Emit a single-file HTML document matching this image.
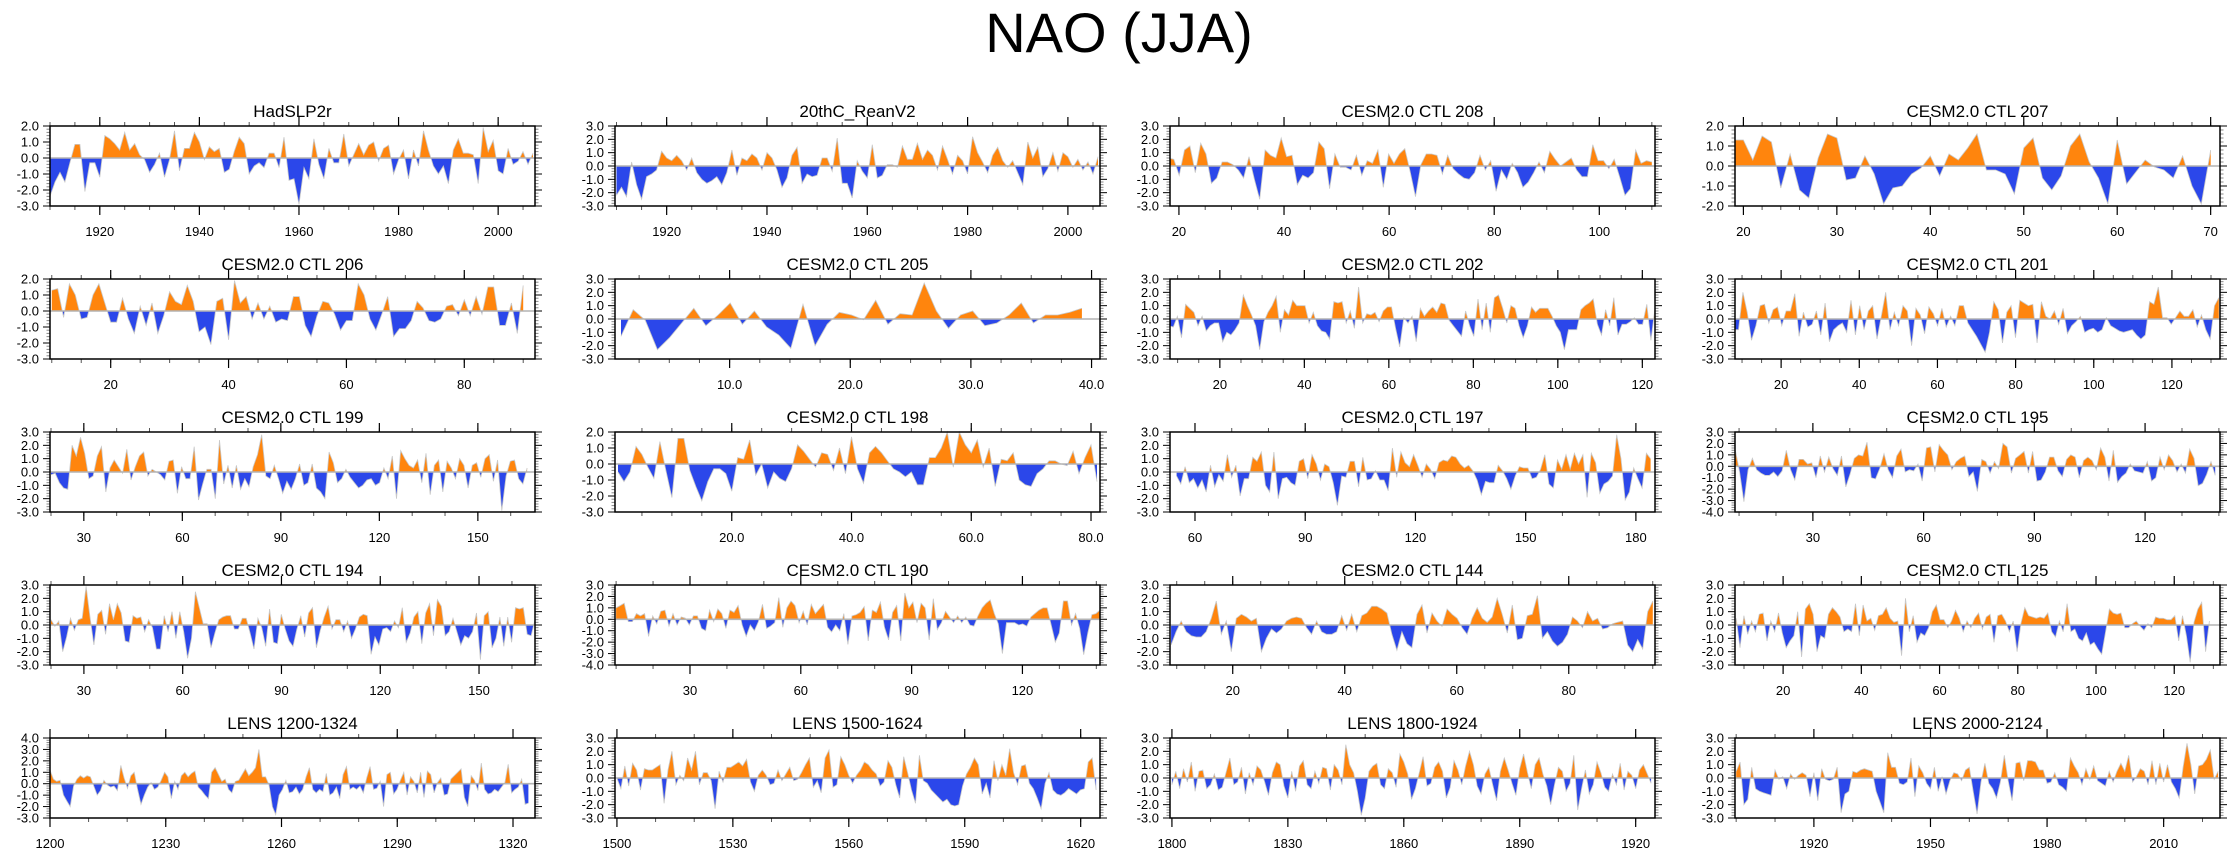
<!DOCTYPE html>
<html><head><meta charset="utf-8"><style>
html,body{margin:0;padding:0;background:#fff;}
svg{display:block;font-family:"Liberation Sans",sans-serif;}
</style></head><body>
<svg id="chart" width="2238" height="856" viewBox="0 0 2238 856" xmlns="http://www.w3.org/2000/svg">
<rect width="2238" height="856" fill="#fff"/>
<text x="1119" y="52" text-anchor="middle" font-size="56" fill="#000">NAO (JJA)</text>
</svg>
<script>
const titles = ["HadSLP2r","20thC_ReanV2","CESM2.0 CTL 208","CESM2.0 CTL 207","CESM2.0 CTL 206","CESM2.0 CTL 205","CESM2.0 CTL 202","CESM2.0 CTL 201","CESM2.0 CTL 199","CESM2.0 CTL 198","CESM2.0 CTL 197","CESM2.0 CTL 195","CESM2.0 CTL 194","CESM2.0 CTL 190","CESM2.0 CTL 144","CESM2.0 CTL 125","LENS 1200-1324","LENS 1500-1624","LENS 1800-1924","LENS 2000-2124"];
// x-axis domains [min,max], data span [first,last]
const xDomains = [[1910,2007.4],[1909.7,2006.4],[18.3,110.6],[19.1,71],[9.7,92],[0.5,40.7],[8.2,123],[8.2,132.3],[19.7,167.4],[0.5,81.5],[53.2,185.2],[8.9,140.3],[19.7,167],[9.7,141],[8.8,95.4],[7.7,131.7],[1200,1325.7],[1499.5,1625],[1799.5,1925],[1899.7,2024.5]];
const dataSpans = [[1910,2007],[1910,2006],[18,110],[19,70],[10,90],[1,39.2],[8,123],[8,132],[20,165],[1,81],[55,184],[9,139],[20,167],[10,141],[9,95],[8,129],[1200,1324],[1500,1624],[1800,1924],[1900,2024]];
const yDomains = [[-3,2],[-3,3],[-3,3],[-2,2],[-3,2],[-3,3],[-3,3],[-3,3],[-3,3],[-3,2],[-3,3],[-4,3],[-3,3],[-4,3],[-3,3],[-3,3],[-3,4],[-3,3],[-3,3],[-3,3]];
const xTicks = [[1920,1940,1960,1980,2000],[1920,1940,1960,1980,2000],[20,40,60,80,100],[20,30,40,50,60,70],[20,40,60,80],[10,20,30,40],[20,40,60,80,100,120],[20,40,60,80,100,120],[30,60,90,120,150],[20,40,60,80],[60,90,120,150,180],[30,60,90,120],[30,60,90,120,150],[30,60,90,120],[20,40,60,80],[20,40,60,80,100,120],[1200,1230,1260,1290,1320],[1500,1530,1560,1590,1620],[1800,1830,1860,1890,1920],[1920,1950,1980,2010]];
const xMinorStep = [5,5,5,2,5,2.5,5,5,10,5,10,10,10,10,5,5,10,10,10,10];
const xTickDecimals = [0,0,0,0,0,1,0,0,0,1,0,0,0,0,0,0,0,0,0,0];

const vals1 = [-2.4,-1.5,-0.9,-1.5,-0.3,0.85,0.85,-2.1,-0.3,-0.3,-1.2,1.4,1.2,0.9,0.5,1.6,0.5,0.9,0.2,-0.1,-0.9,-0.4,0.3,-1.2,-0.1,1.7,-0.8,0.6,0.6,1.6,1.0,-0.1,0.7,0.4,0.6,-0.9,-0.7,0.4,1.3,0.9,-1.0,-0.5,-0.3,-0.6,0.3,0.3,-0.6,1.3,-1.4,-1.3,-2.9,-0.6,-1.3,1.2,-0.4,-1.3,0.6,-0.3,-0.3,1.5,-0.5,0.2,0.9,0.2,0.8,1.0,-0.2,0.6,0.8,-1.0,-0.1,0.5,-1.3,0.5,-0.5,1.7,0.5,-0.5,-1.0,-0.5,-1.6,0.5,1.2,0.3,0.3,0.2,-1.6,1.9,0.4,1.1,-0.8,-1.0,0.6,-0.4,-0.2,0.4,-0.4,0.3];
const vals2 = [-2.2,-1.6,-2.3,0.3,-1.4,-2.5,-0.8,-0.6,-0.3,1.1,0.6,0.4,0.8,0.4,-0.3,0.6,-0.5,-1.0,-1.3,-1.1,-0.8,-1.4,-0.5,1.2,-0.7,0.6,0.4,0.9,0.6,-0.3,1.0,0.6,-0.3,-1.6,-0.9,0.8,1.4,-1.3,-0.6,-0.8,-0.7,0.6,0.6,-0.4,2.1,-1.3,-1.3,-2.4,0.4,-0.4,-0.9,1.6,-0.9,-0.7,0.1,0.1,-0.1,1.5,0.5,0.5,1.7,0.5,1.2,0.8,-0.3,1.5,0.5,-0.6,0.8,0.4,-0.6,2.2,1.0,0.3,-0.5,0.8,1.4,0.4,-0.1,0.4,-0.5,-1.4,1.8,0.6,1.4,-0.8,-0.2,1.0,-0.4,1.0,0.7,-0.1,0.5,-0.3,0.3,-0.6,0.7];
const vals3 = [0.6,0.5,-0.7,1.2,1.5,-0.5,1.7,0.9,-1.3,-0.9,0.3,0.3,0.1,-0.3,-0.9,0.7,-1.0,-2.5,1.2,0.8,0.6,2.1,0.7,0.8,-1.4,-0.7,-0.9,-0.5,1.8,1.3,-1.7,0.9,-0.1,-0.1,-0.3,0.8,-0.7,0.4,0.2,1.2,-1.6,0.9,0.2,0.9,1.3,-0.4,-2.3,0.1,0.9,0.9,0.8,-0.6,0.8,-0.2,-0.6,-0.9,-1.0,-0.5,0.8,-0.3,0.4,-1.9,-0.3,-1.0,0.2,-0.5,-1.6,-1.2,-0.5,0.3,-0.5,1.1,0.5,0.0,0.3,0.6,-0.3,-0.8,-0.8,1.6,0.4,0.4,-0.2,0.5,-0.8,-2.2,-1.7,1.2,0.2,0.4,0.3];
const vals4 = [1.3,1.3,0.3,1.5,1.2,-1.1,0.6,-1.2,-1.6,0.4,1.6,1.4,-0.7,-0.6,0.5,-0.4,-1.9,-1.1,-1.0,-0.4,-0.1,0.5,-0.5,0.6,0.3,0.9,1.6,-0.2,-0.2,-0.4,-1.4,0.9,1.4,-0.6,-1.2,-0.5,1.0,1.6,0.2,-0.6,-1.9,1.3,-0.9,-0.3,0.3,-0.05,-0.2,-0.6,0.5,-1.0,-1.9,0.8];
const vals5 = [1.3,1.4,-0.4,1.7,1.0,-0.5,-0.4,1.0,1.7,0.5,-0.7,-0.7,0.8,-0.5,-1.4,0.3,-0.9,0.5,-1.4,-0.3,1.2,0.6,0.4,1.6,0.6,-1.3,-1.0,-2.1,0.6,0.8,-1.8,1.9,0.5,0.9,-0.5,0.5,-0.5,0.3,-0.7,-0.5,-0.6,0.9,0.9,-0.9,-1.6,-0.3,0.6,0.5,-0.2,-1.2,-0.6,-0.6,1.7,1.0,-0.5,-1.2,-0.2,0.9,-1.6,-1.1,-1.1,-0.6,0.6,0.2,-0.6,-0.7,-0.5,0.3,0.4,-0.3,0.7,-0.3,0.9,-0.2,1.5,1.5,-0.9,-0.9,0.5,-1.4,1.6];
const vals6 = [-1.3,0.7,-0.1,-2.3,-1.4,-0.3,0.8,-0.5,0.3,1.2,-0.4,0.6,-0.6,-1.2,-2.2,1.1,-2.0,-0.4,0.5,0.3,-0.05,1.4,-0.4,0.4,0.3,2.7,0.6,-0.7,0.3,0.6,-0.5,-0.3,0.3,1.2,-0.3,0.3,0.3,0.5,0.8];
const vals7 = [-0.5,-0.6,0.2,-1.4,1.1,0.8,0.5,-0.5,0.2,-0.9,-0.5,-0.3,-0.3,-1.7,-1.0,-1.2,-0.8,-0.3,1.8,1.0,0.3,-0.5,-2.3,-0.2,0.5,1.0,1.7,-1.0,0.7,0.3,1.4,1.0,1.0,1.0,-0.3,0.5,-0.5,-0.9,-1.0,-1.5,1.3,1.2,1.3,-0.3,0.6,-0.7,2.4,-0.3,0.4,0.3,0.5,-0.2,0.6,0.9,0.9,-0.7,-2.1,0.1,-0.3,0.2,-1.7,0.8,0.2,0.6,0.9,0.5,1.2,1.1,-0.1,-0.5,-0.9,-1.3,0.6,-0.5,-1.3,1.5,-0.8,1.2,-1.0,1.6,1.8,0.8,-0.3,1.0,0.8,-0.5,-1.4,-0.5,0.9,0.5,0.8,0.8,0.8,0.2,-0.5,-1.0,-2.3,-0.8,-0.8,-0.8,0.7,1.0,1.2,1.5,-0.4,-1.2,0.7,-0.5,1.6,-1.2,-0.4,-0.4,-0.2,0.1,-0.4,-0.4,1.1,-1.6,0.8];
const vals8 = [-0.8,-0.8,2.0,0.5,-1.6,-0.5,1.0,1.1,-0.3,0.7,0.9,-0.5,0.6,0.6,1.9,-1.3,0.5,-0.6,-0.4,0.6,-1.2,1.2,-1.7,-0.8,-0.5,-0.3,-1.0,1.4,-1.2,1.0,-0.8,0.6,1.0,-1.5,0.2,2.0,-0.8,0.5,-0.5,1.0,0.6,-2.0,0.8,0.3,-1.1,0.9,0.4,-0.5,0.8,-0.6,0.2,-0.5,1.0,1.0,-0.3,-0.8,-1.3,-1.9,-2.5,-1.0,1.3,0.7,-1.8,0.5,1.0,-1.4,1.4,1.2,1.0,1.1,-1.8,1.3,0.2,0.0,0.6,-0.4,0.8,-1.1,-0.5,-0.2,0.2,-1.0,-0.8,-0.7,-1.0,-0.8,0.1,-0.5,-0.7,-0.9,-1.0,-0.9,-0.8,-1.2,-1.5,-1.2,1.3,1.1,2.4,0.1,0.1,-0.4,0.1,0.6,0.2,0.2,0.7,-0.6,0.3,-0.8,-1.5,1.0,1.6];
const vals9 = [-0.2,-0.1,-0.8,-1.2,-1.3,2.0,1.2,2.6,1.4,-0.5,-0.3,1.2,1.9,-1.5,0.3,0.9,0.4,-0.1,1.7,-0.6,0.4,1.2,1.5,-0.3,0.2,0.0,-0.2,-0.6,0.8,0.9,-1.6,0.4,-0.5,-0.5,1.9,-2.1,-0.9,0.2,0.2,-2.0,2.4,-0.9,0.5,-1.2,0.5,-1.3,-0.5,-1.1,0.4,1.3,2.8,-0.3,-0.5,0.5,-0.5,-1.6,-0.7,-1.3,-0.5,0.6,-1.0,-0.8,0.6,-1.2,-1.5,-2.0,1.5,0.7,-0.8,-0.5,0.2,-0.4,-0.8,-1.2,-1.0,-0.6,-0.5,-1.0,-0.8,0.3,-0.5,1.2,-2.0,1.6,1.0,0.5,0.3,0.9,-0.8,1.4,-1.7,0.5,0.9,-1.5,0.8,0.3,-0.5,1.0,0.5,-1.2,0.5,0.7,-0.4,1.0,1.3,-0.7,0.9,-2.9,-0.3,0.8,0.9,-0.5,-0.9,0.3];
const vals10 = [-0.5,-1.1,-0.5,1.1,0.6,-0.2,-0.9,1.4,-0.4,-2.1,1.6,1.6,-0.4,-1.4,-2.3,-1.1,-0.3,-0.3,-0.6,-1.7,0.4,0.3,1.5,-0.7,0.0,-1.5,-0.5,-0.9,-1.1,-0.3,1.2,0.8,0.3,-0.2,0.7,0.6,-0.4,1.0,-0.6,1.7,-0.3,-1.2,0.7,1.1,0.7,0.2,-0.3,-0.5,-0.8,-0.5,-1.3,-1.3,0.4,0.4,1.0,2.0,-0.2,2.0,1.2,0.7,1.5,-0.2,1.0,-1.4,0.3,0.2,0.7,-1.0,-1.3,-1.4,-0.6,-0.3,0.2,0.2,0.0,-0.1,0.8,-0.6,0.4,1.2,-1.1];
const vals11 = [-0.3,-0.9,0.4,-0.8,-0.5,-1.2,-0.6,-1.5,0.5,-1.1,-0.2,-0.7,1.3,-0.4,0.5,-1.8,-0.5,-0.5,1.1,0.8,1.5,-1.0,-1.5,1.5,-2.0,-0.5,-0.4,-0.8,-1.0,0.8,1.0,-0.5,1.3,0.6,-0.6,0.6,0.4,-0.8,-2.5,-0.3,-0.4,0.8,0.8,-1.1,1.1,-0.6,-0.5,0.1,-0.6,-0.6,-1.4,1.8,-0.4,1.5,0.7,0.4,1.3,0.5,-0.4,0.6,0.2,-0.5,0.7,0.9,0.8,1.2,1.1,0.6,0.3,0.5,0.1,-0.6,-1.7,-0.7,-0.8,-0.8,0.5,0.1,-0.5,-1.3,-0.3,0.4,0.3,0.3,-0.5,-0.4,0.2,1.3,-0.9,-1.2,0.9,0.2,1.3,0.2,1.4,0.6,1.3,-1.9,1.4,0.7,-1.6,-0.9,-0.7,-0.3,2.8,1.0,-2.1,-1.5,0.3,-0.5,-1.2,1.4,1.0];
const vals12 = [1.4,-0.5,-3.1,-0.3,0.7,-0.3,-0.6,-0.8,-0.8,-0.5,-0.9,-0.4,1.4,-0.3,-1.2,0.6,0.6,0.2,0.3,-1.0,0.9,-0.5,0.8,-0.2,-0.8,0.9,-1.8,-0.7,0.7,1.0,0.9,2.1,-1.0,-1.1,-0.2,1.1,-0.3,-1.0,0.9,1.5,-0.5,-0.3,-0.4,0.2,-1.3,1.6,1.7,-0.5,1.9,1.4,1.0,-0.3,0.4,0.7,0.9,-0.9,-0.5,-2.2,0.6,0.4,-0.6,0.4,-0.2,2.0,1.7,-0.6,0.7,1.0,1.3,-0.6,1.3,-1.3,-1.2,-0.5,0.8,0.8,-0.4,-0.9,0.6,1.0,0.8,-1.0,0.5,0.8,0.5,-0.3,1.6,0.8,-1.3,1.4,-1.4,-0.9,-0.6,0.2,-0.4,-0.5,-0.6,0.4,-1.3,-1.0,0.8,-0.3,1.0,0.5,-0.5,0.2,-0.6,1.5,0.7,-1.7,-1.5,-0.7,0.4,-0.8];
const vals13 = [0.4,-0.1,0.3,-2.0,-0.9,0.5,-0.4,0.4,0.5,2.9,0.6,-1.5,0.8,1.1,-0.7,1.6,0.4,1.6,0.9,-1.2,-1.3,0.7,0.5,0.6,-0.5,0.4,-0.2,-1.8,-1.8,0.7,-0.5,1.0,-1.0,1.0,-0.5,-2.5,-1.0,2.5,1.3,0.1,0.1,-1.7,-0.6,0.4,0.6,0.7,0.7,-0.3,-0.3,0.5,0.5,-0.6,-1.8,0.5,-0.2,-1.6,1.2,-1.3,-1.4,0.8,-0.3,-1.2,-1.6,-0.3,0.7,-0.9,0.9,1.3,-1.7,-0.4,0.6,1.4,-0.3,0.4,0.4,-0.5,0.3,-1.0,-0.3,0.6,0.8,0.7,-2.2,-0.9,-1.5,-0.3,-0.2,-0.5,0.3,-0.2,1.3,-1.3,-0.6,0.6,1.0,-1.4,0.9,1.6,-0.8,1.9,1.4,-0.8,-0.5,0.5,-0.5,-1.5,-0.8,-1.0,-0.5,0.9,-2.6,0.7,1.0,-1.7,-1.0,0.6,-1.6,0.6,-1.3,1.3,1.2,1.3,-0.7,-0.8,0.4];
const vals14 = [1.0,1.2,1.4,-0.2,-0.2,0.5,0.3,0.5,-1.5,0.3,-0.4,0.7,0.8,-0.6,0.5,-0.5,0.2,0.1,-0.5,0.3,0.3,-0.8,-1.0,0.8,-0.2,0.9,0.5,-0.8,0.8,0.6,1.2,-0.5,-1.5,-0.5,-1.0,-0.2,1.3,-0.8,-0.6,-0.3,1.9,-0.7,1.0,1.6,1.2,-0.3,0.7,-0.5,1.3,0.5,0.9,1.3,-0.7,-1.1,-0.5,-1.0,0.5,-2.2,0.3,0.4,0.6,1.1,-1.9,0.8,0.6,1.5,-0.7,-1.8,0.6,1.2,-1.9,2.3,1.0,1.5,-0.3,1.4,1.0,-1.8,1.8,-0.9,-0.3,0.7,0.2,-0.3,0.3,-0.3,0.2,-0.5,-0.6,0.3,1.0,1.4,1.7,0.5,-0.4,-3.0,-0.3,-0.3,-0.3,-0.5,-0.4,-0.6,0.2,0.5,0.8,1.0,1.0,-0.5,-2.0,-1.2,1.6,1.6,-0.5,0.5,-0.8,-3.1,-1.2,0.4,0.5,0.8];
const vals15 = [-1.5,-0.5,0.3,-0.5,-0.8,-0.9,-0.9,-0.5,0.5,1.8,-0.7,0.3,-2.0,0.5,0.8,0.6,0.3,0.5,-2.0,-1.0,-0.3,-0.6,-0.3,0.3,0.5,0.6,0.5,-0.2,-0.7,0.3,-0.5,-0.7,-0.7,-0.5,0.7,-0.4,0.8,-0.5,0.7,0.9,1.4,1.4,1.2,0.9,-0.7,-1.9,-0.5,-1.4,-1.7,0.8,1.5,-0.6,0.9,0.3,-0.1,1.2,0.8,0.5,-0.2,-0.7,0.5,1.3,0.5,0.2,0.6,2.0,0.8,-0.6,1.5,-1.1,-1.0,0.7,0.8,2.2,-1.0,-0.5,-1.2,-1.6,-1.3,-0.7,0.6,0.3,-0.2,1.0,0.3,0.5,-0.3,-0.2,0.1,0.2,0.3,-1.5,-2.0,-1.1,-1.8,1.0,1.8];
const vals16 = [0.5,-1.7,0.7,-0.7,0.3,-0.5,0.8,0.9,-1.2,0.3,-0.5,0.9,-0.6,-1.7,-1.2,-0.8,1.0,-2.4,1.2,1.6,0.8,-2.0,-0.8,-1.0,0.8,1.3,1.0,0.6,-0.5,-0.3,-0.5,1.6,-0.8,1.5,0.3,0.5,-0.4,0.7,0.8,1.3,0.5,0.2,0.3,-2.3,2.0,-0.5,0.7,-1.3,-0.6,-0.8,-0.2,1.0,1.5,0.4,0.4,-0.2,0.3,1.1,0.5,-0.5,0.3,-0.2,0.5,0.9,-0.3,0.6,0.8,-1.3,0.7,0.8,0.3,-0.5,0.3,-2.0,0.1,1.3,0.7,0.6,0.5,0.6,0.5,0.9,-0.5,-0.9,0.3,-0.5,1.6,-0.5,-0.3,-1.0,-1.2,-0.6,-1.5,-1.3,-1.8,-2.2,-0.5,1.2,0.9,0.8,0.9,-0.2,-0.2,0.1,0.3,-0.1,-0.4,0.1,-0.2,0.6,0.5,0.5,0.4,0.4,0.7,-1.2,0.7,-0.8,-2.8,0.2,1.2,1.7,-2.0,0.3];
const vals17 = [1.2,0.4,0.2,0.3,-1.0,-1.5,-2.0,-0.2,0.4,0.7,0.5,0.7,0.6,-0.2,-1.0,-0.6,0.3,-0.1,-0.3,-0.2,-0.6,1.6,0.5,-0.4,0.7,1.0,-0.5,-1.8,-1.0,-0.3,0.1,-0.5,-0.3,0.3,1.0,0.6,-1.3,0.2,-0.5,0.7,1.0,0.6,0.9,1.1,-0.3,-0.6,-1.0,-1.3,1.0,1.4,0.8,0.2,0.4,-0.5,-0.8,0.2,0.3,0.8,1.3,0.7,1.0,1.4,3.0,0.6,0.6,-0.1,-2.0,-2.7,-1.0,-0.5,0.3,-0.8,-0.7,-0.3,-0.9,-0.5,0.6,1.4,-0.5,-0.8,-0.5,-0.7,0.9,-1.0,-0.8,-0.3,-1.3,0.8,1.5,-0.5,-0.3,-0.5,-0.2,-0.8,0.5,1.5,-0.5,-0.4,0.2,-2.0,0.8,1.0,-0.9,-0.5,0.3,1.0,-1.0,0.6,0.2,-0.8,1.0,-1.2,1.1,0.8,-0.8,0.1,0.5,-1.0,-0.9,0.4,0.7,1.0,1.3,-1.2,-2.0,0.7,0.3,-0.6,1.8,-0.5,-0.9,-0.8,-0.5,-0.7,-0.3,0.1,1.7,-0.8,-0.5,-0.3,0.4,-1.8,-1.7];
const vals18 = [0.0,-0.8,0.9,-0.6,1.1,0.6,-0.9,0.7,0.6,0.6,0.8,1.0,-1.9,0.6,2.0,-0.5,0.2,-0.2,1.5,0.6,2.0,-0.5,0.4,0.4,-0.2,-2.3,0.5,-0.3,0.8,0.8,1.0,1.2,0.9,1.4,-0.3,-1.0,0.2,0.6,0.2,-0.5,-0.4,0.6,-0.2,0.3,0.8,-0.2,-0.1,0.4,1.0,1.5,-0.7,-0.2,-1.1,1.5,2.1,-0.7,-0.5,1.6,1.0,0.2,-0.4,0.2,0.6,1.2,1.0,0.6,0.3,-0.6,-0.3,1.3,0.8,-0.5,-1.5,1.6,0.4,-0.9,-1.9,1.7,-0.2,-0.4,-0.9,-1.2,-1.5,-1.8,-1.6,-2.0,-2.1,-2.0,-0.6,0.3,0.8,1.5,1.0,-1.2,-0.4,-1.5,1.3,-0.2,1.0,0.2,2.2,0.4,-0.5,0.9,1.0,-0.4,-0.8,-1.5,-2.3,-0.4,0.4,-0.9,-1.2,-1.3,-1.1,-0.8,-1.0,-1.2,-0.9,-0.8,1.2,1.5,-0.9];
const vals19 = [-0.5,0.5,-0.8,0.7,-0.3,1.2,-1.0,0.5,0.6,-0.8,-0.5,0.3,-0.9,-0.7,0.4,1.5,-0.5,-0.3,0.8,-1.2,0.4,-0.5,0.9,0.6,-0.3,-1.3,0.4,1.2,1.0,-0.6,-1.5,0.5,-1.0,0.9,1.3,-0.5,-0.8,0.5,-0.4,0.8,0.7,-0.9,1.0,0.6,-0.5,2.5,1.0,0.4,-1.0,-2.8,-1.5,0.5,0.9,1.1,-0.5,-0.8,0.7,0.4,-0.7,1.8,1.2,0.3,-1.6,-0.8,0.4,1.6,-0.6,-0.4,0.8,1.2,0.5,-1.5,-0.7,1.3,0.6,-0.5,0.9,2.0,1.0,-0.6,-1.2,0.3,0.8,-0.5,-1.7,0.5,1.5,0.6,-0.4,-1.3,0.7,1.8,0.4,-0.8,1.0,1.5,0.3,-0.6,-2.0,-0.5,0.8,0.5,-1.0,-0.4,1.7,-2.4,-0.8,0.6,-1.2,-0.5,1.2,0.4,-0.7,-1.0,0.3,-0.5,1.1,-0.9,0.5,0.2,-0.8,0.6,1.0,0.3,-0.4];
const vals20 = [0.5,1.2,-2.0,-1.6,0.8,-0.8,-1.0,-1.1,-1.2,-1.3,0.6,-0.1,0.1,-0.8,0.3,-0.1,0.2,0.4,0.2,-1.4,0.4,-1.7,0.7,-0.1,-0.2,-0.1,0.8,-2.6,-1.2,-1.0,0.5,0.4,0.6,0.7,0.6,0.5,-1.0,-1.8,-2.6,1.9,0.8,0.8,-0.4,-0.5,-0.3,1.5,-1.4,0.9,0.4,-0.4,-0.8,0.8,-1.0,0.1,-1.2,-0.2,0.4,0.3,-0.2,0.6,0.8,-1.0,-2.7,-0.3,1.1,-0.4,-0.8,-1.5,-0.3,1.7,-0.2,-1.7,1.1,1.2,-0.2,1.3,1.3,1.2,0.6,0.6,-0.4,-0.3,0.4,-0.5,-0.7,-1.0,1.5,0.9,0.4,-0.5,0.7,-0.1,0.9,-0.2,-0.4,-0.6,0.5,-0.3,0.5,1.1,0.5,1.7,-0.3,0.1,0.7,0.5,-0.5,1.3,-0.5,1.1,-0.3,1.0,-0.3,-0.8,-1.5,0.8,2.6,1.0,-1.2,0.9,1.0,1.4,2.1,-0.1,0.5];
const allVals = [vals1,vals2,vals3,vals4,vals5,vals6,vals7,vals8,vals9,vals10,vals11,vals12,vals13,vals14,vals15,vals16,vals17,vals18,vals19,vals20];

const NS = "http://www.w3.org/2000/svg";
const svg = document.getElementById('chart');
const colLeft = [50, 615, 1170, 1735];
const rowTop = [126, 279, 432, 585, 738];
const PW = 485, PH = 80;
function mk(tag, attrs, parent){ const e=document.createElementNS(NS,tag); for(const k in attrs) e.setAttribute(k,attrs[k]); parent.appendChild(e); return e; }
function fmt(v,d){ return v.toFixed(d); }

for (let p = 0; p < 20; p++) {
  const L = colLeft[p%4], T = rowTop[Math.floor(p/4)];
  const [xmin,xmax] = xDomains[p], [ymin,ymax] = yDomains[p];
  const sx = v => L + (v - xmin) / (xmax - xmin) * PW;
  const sy = v => T + (ymax - v) / (ymax - ymin) * PH;
  const g = mk('g', {}, svg);
  
  
  const t = mk('text', {x: L + PW/2, y: T - 9, 'text-anchor':'middle', 'font-size':17, fill:'#000'}, g);
  t.textContent = titles[p];
  
  
  // clip paths
  const z = sy(0);
  const cpU = mk('clipPath', {id:'cu'+p}, g); mk('rect', {x:L, y:T, width:PW, height:z-T}, cpU);
  const cpD = mk('clipPath', {id:'cd'+p}, g); mk('rect', {x:L, y:z, width:PW, height:T+PH-z}, cpD);
  const vals = allVals[p], [d0,d1] = dataSpans[p], n = vals.length;
  const pts = vals.map((v,i) => [sx(d0 + i*(d1-d0)/(n-1)), sy(v)]);
  const poly = [[pts[0][0], z], ...pts, [pts[n-1][0], z]].map(q => q[0].toFixed(1)+','+q[1].toFixed(1)).join(' ');
  const up = mk('polygon', {points: poly, fill:'#ff850d', 'clip-path':'url(#cu'+p+')'}, g);
  
  
  const dn = mk('polygon', {points: poly, fill:'#2b47ea', 'clip-path':'url(#cd'+p+')'}, g);
  
  
  const ln = mk('polyline', {points: pts.map(q => q[0].toFixed(1)+','+q[1].toFixed(1)).join(' '), fill:'none', stroke:'#c8c8c8', 'stroke-width':0.8}, g);
  
  
  const zl = mk('line', {x1:L, x2:L+PW, y1:z, y2:z, stroke:'#b4b4b4', 'stroke-width':1.6}, g);
  
  
  // y ticks
  for (let k = Math.round(ymin*5); k <= Math.round(ymax*5); k++) {
    const v = k/5, y = sy(v), major = (k % 5 === 0), len = major ? 7 : 3.5;
    mk('line', {x1:L-len, x2:L, y1:y, y2:y, stroke: major?'#000':'#888', 'stroke-width':1}, g);
    mk('line', {x1:L+PW, x2:L+PW+len, y1:y, y2:y, stroke: major?'#000':'#888', 'stroke-width':1}, g);
    if (major) {
      const yl = mk('text', {x:L-11, y:y+4.5, 'text-anchor':'end', 'font-size':13, fill:'#000'}, g);
      yl.textContent = fmt(v,1);
      
      
    }
  }
  // x ticks
  const ms = xMinorStep[p];
  for (let v = Math.ceil(xmin/ms)*ms; v <= xmax; v += ms) {
    const x = sx(v);
    mk('line', {x1:x, x2:x, y1:T+PH, y2:T+PH+4, stroke:'#555', 'stroke-width':1}, g);
    mk('line', {x1:x, x2:x, y1:T-4, y2:T, stroke:'#555', 'stroke-width':1}, g);
  }
  xTicks[p].forEach(v => {
    const x = sx(v);
    mk('line', {x1:x, x2:x, y1:T+PH, y2:T+PH+9, stroke:'#000', 'stroke-width':1.2}, g);
    mk('line', {x1:x, x2:x, y1:T-9, y2:T, stroke:'#000', 'stroke-width':1.2}, g);
    const xl = mk('text', {x:x, y:T+PH+30, 'text-anchor':'middle', 'font-size':13, fill:'#000'}, g);
    xl.textContent = fmt(v, xTickDecimals[p]);
    
    
  });
  const box = mk('rect', {x:L, y:T, width:PW, height:PH, fill:'none', stroke:'#000', 'stroke-width':1.5}, g);
  
  
}
</script>
</body></html>
